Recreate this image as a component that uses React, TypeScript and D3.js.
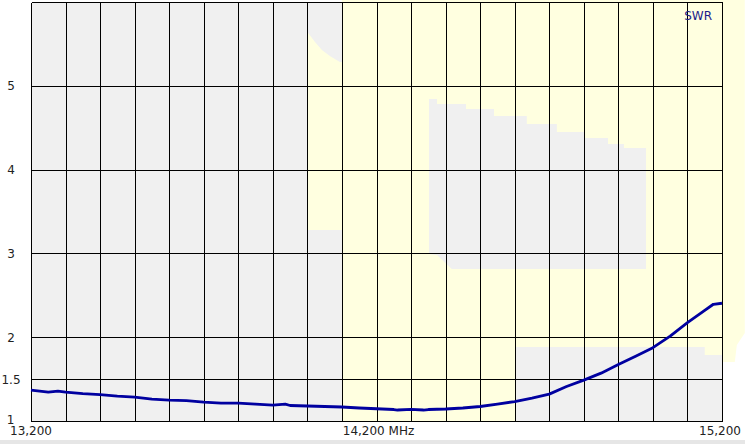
import React from "react";
import * as d3 from "d3";

const W = 745;
const H = 444;

// frequency sweep (kHz) and measured SWR
const FREQ_KHZ = [13200,13250,13278,13300,13350,13400,13450,13500,13550,13600,13650,13700,13750,13800,13850,13900,13936,13950,14000,14050,14100,14150,14200,14250,14261,14300,14336,14350,14400,14450,14500,14550,14600,14650,14700,14750,14800,14850,14900,14950,15000,15050,15100,15150,15175,15200];
const SWR = [1.369,1.345,1.357,1.345,1.327,1.315,1.298,1.286,1.262,1.25,1.244,1.226,1.214,1.214,1.202,1.19,1.202,1.185,1.179,1.173,1.167,1.155,1.146,1.137,1.131,1.139,1.131,1.137,1.143,1.155,1.173,1.202,1.232,1.274,1.321,1.411,1.488,1.571,1.673,1.774,1.875,2.012,2.173,2.321,2.393,2.405];

const Y_TICKS = [1, 1.5, 2, 3, 4, 5];
const Y_TICK_LABELS = ["1", "1.5", "2", "3", "4", "5"];
const X_LABELS = ["13,200", "14,200 MHz", "15,200"];
const X_LABEL_FREQ = [13200, 14200, 15200];
const SERIES_NAME = "SWR";

// background shading regions (kHz, SWR)
const YELLOW_F = [14100,15266,15266,15243,15237,15200,15200,14100,14100,14000,14000,14022,14042,14065,14094,14100];
const YELLOW_V = [6.024,6.024,2.05,1.907,1.704,1.704,1,1,3.279,3.279,5.642,5.523,5.427,5.356,5.284,5.284];
const GRAY1_F = [14352,14352,14375,14375,14459,14459,14540,14540,14635,14635,14722,14722,14803,14803,14870,14870,14916,14916,14980,14980,14418,14375,14352];
const GRAY1_V = [2.993,4.842,4.842,4.783,4.783,4.723,4.723,4.640,4.640,4.544,4.544,4.449,4.449,4.377,4.377,4.306,4.306,4.258,4.258,2.814,2.814,2.981,2.993];
const GRAY2_F = [14604,15150,15150,15200,15200,14604];
const GRAY2_V = [1.883,1.883,1.788,1.788,1,1];

export default function App() {
  const x = d3.scaleLinear().domain([13200, 15200]).range([31, 722]);
  const y = d3.scaleLinear().domain([1, 6]).range([421, 2]);

  const poly = (fs: number[], vs: number[]) =>
    fs.map((f, i) => `${x(f)},${y(vs[i])}`).join(" ");

  const line = d3
    .line<number>()
    .x((_, i) => x(FREQ_KHZ[i]))
    .y((v) => y(v))
    .curve(d3.curveLinear);

  const vGrid = d3.range(13200, 15201, 100);
  const hGrid = [1.5, 2, 3, 4, 5];
  const snap = (v: number) => Math.round(v) + 0.5;
  const font = "'DejaVu Sans', sans-serif";

  return (
    <svg
      width={W}
      height={H}
      style={{ position: "absolute", left: 0, top: 0, background: "#ffffff" }}
    >
      <rect x={0} y={0} width={W} height={H} fill="#ffffff" />
      <rect x={x(13200)} y={y(6)} width={x(15200) - x(13200)} height={y(1) - y(6)} fill="#f0f0f0" />
      <polygon points={poly(YELLOW_F, YELLOW_V)} fill="#ffffe0" />
      <polygon points={poly(GRAY1_F, GRAY1_V)} fill="#f0f0f0" />
      <polygon points={poly(GRAY2_F, GRAY2_V)} fill="#f0f0f0" />
      <rect x={0} y={440} width={W} height={4} fill="#e6e6e6" />

      <g stroke="#000" strokeWidth={1} shapeRendering="crispEdges">
        {vGrid.map((f) => (
          <line key={"v" + f} x1={snap(x(f))} x2={snap(x(f))} y1={snap(y(6))} y2={snap(y(1))} />
        ))}
        {hGrid.map((v) => (
          <line key={"h" + v} x1={snap(x(13200))} x2={snap(x(15200))} y1={snap(y(v))} y2={snap(y(v))} />
        ))}
        <line x1={snap(x(13200))} x2={snap(x(15200))} y1={snap(y(6))} y2={snap(y(6))} />
        <line x1={snap(x(13200))} x2={snap(x(15200))} y1={snap(y(1))} y2={snap(y(1))} />
      </g>

      <path d={line(SWR) || ""} fill="none" stroke="#0000a0" strokeWidth={2.8} strokeLinejoin="round" />

      <g fontFamily={font} fontSize={12} fill="#222">
        {Y_TICKS.map((v, i) => (
          <text key={"yl" + v} x={v === 1 ? 10.5 : 11} y={v === 1 ? 424 : y(v) + 4.4} textAnchor="middle">
            {Y_TICK_LABELS[i]}
          </text>
        ))}
        <text x={10} y={435} textAnchor="start">{X_LABELS[0]}</text>
        <text x={x(X_LABEL_FREQ[1]) + 2} y={435} textAnchor="middle">{X_LABELS[1]}</text>
        <text x={741} y={435} textAnchor="end">{X_LABELS[2]}</text>
      </g>
      <text x={712} y={20} textAnchor="end" fontFamily={font} fontSize={12} fill="#1c1c8a">
        {SERIES_NAME}
      </text>
    </svg>
  );
}
